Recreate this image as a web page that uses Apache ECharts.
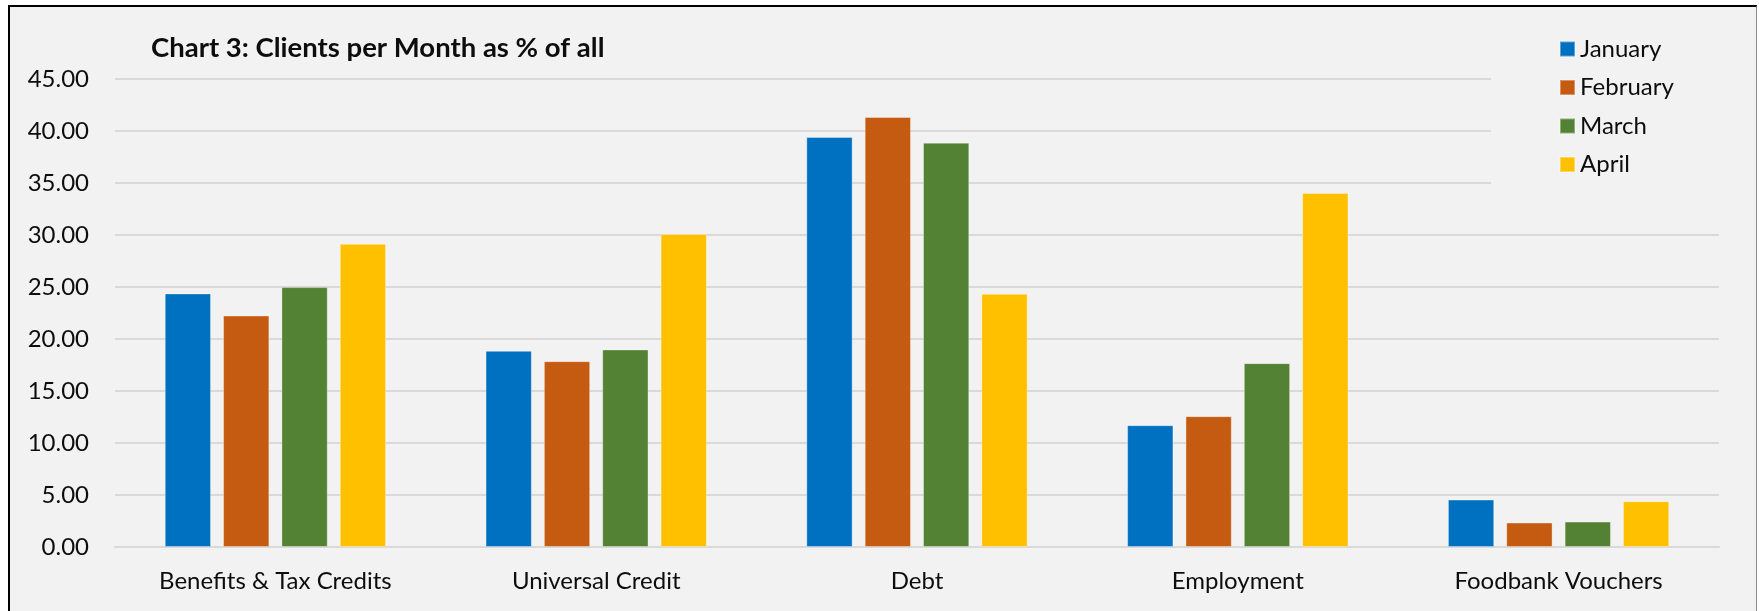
<!DOCTYPE html>
<html>
<head>
<meta charset="utf-8">
<script src="https://cdn.jsdelivr.net/npm/echarts@6/dist/echarts.min.js"></script>
<style>
  html, body { margin: 0; padding: 0; background: #ffffff; }
  #frame {
    position: absolute; left: 8px; top: 5px; width: 1746px; height: 640px;
    background: #f2f2f2; border-top: 2px solid #000; border-left: 2px solid #000; border-right: 1px solid #8c8c8c;
  }
  #main { position: absolute; left: 0; top: 0; width: 1759px; height: 611px; }
</style>
</head>
<body>
<div id="frame"></div>
<div id="main"></div>
<script>
// data (% of all clients)
var categories = ['Benefits & Tax Credits', 'Universal Credit', 'Debt', 'Employment', 'Foodbank Vouchers'];
var months = ['January', 'February', 'March', 'April'];
var january  = [24.38, 18.86, 39.42, 11.71, 4.56];
var february = [22.26, 17.87, 41.35, 12.58, 2.35];
var march    = [24.99, 19.00, 38.88, 17.68, 2.44];
var april    = [29.16, 30.09, 24.35, 34.03, 4.40];
var colors = ['#0070c0', '#c55a11', '#548235', '#ffc000'];

var font = 'Lato, "Open Sans", sans-serif';
var textColor = '#0d0d0d';

function bar(name, values, color) {
    return {
        name: name,
        type: 'bar',
        data: values,
        barGap: '26%',
        barCategoryGap: '31%',
        itemStyle: {
            color: color,
            borderColor: 'rgba(255,255,255,0.35)',
            borderWidth: 1
        }
    };
}

var option = {
    animation: false,
    textStyle: { fontFamily: font },
    title: {
        text: 'Chart 3: Clients per Month as % of all',
        left: 146,
        top: 29,
        textStyle: { fontFamily: font, fontWeight: 'bold', fontSize: 27.5, color: textColor }
    },
    legend: {
        orient: 'vertical',
        left: 1491,
        top: 17,
        padding: [20, 60, 33, 68],
        backgroundColor: '#f2f2f2',
        itemWidth: 15,
        itemHeight: 15,
        itemGap: 14.5,
        icon: 'rect',
        data: months,
        textStyle: { fontFamily: font, fontSize: 24, lineHeight: 24, color: textColor }
    },
    grid: { left: 115, right: 40, top: 79, bottom: 64 },
    xAxis: {
        type: 'category',
        data: categories,
        axisLine: { show: true, lineStyle: { color: '#d9d9d9', width: 2 } },
        axisTick: { show: false },
        axisLabel: { margin: 22, fontFamily: font, fontSize: 24, color: textColor }
    },
    yAxis: {
        type: 'value',
        min: 0,
        max: 45,
        interval: 5,
        axisLine: { show: false },
        axisTick: { show: false },
        splitLine: { lineStyle: { color: '#d9d9d9', width: 2 } },
        axisLabel: {
            margin: 26,
            fontFamily: font,
            fontSize: 24,
            color: textColor,
            formatter: function (v) { return v.toFixed(2); }
        }
    },
    series: [
        bar(months[0], january, colors[0]),
        bar(months[1], february, colors[1]),
        bar(months[2], march, colors[2]),
        bar(months[3], april, colors[3])
    ]
};

var myChart = echarts.init(document.getElementById('main'));
myChart.setOption(option);
</script>
</body>
</html>
